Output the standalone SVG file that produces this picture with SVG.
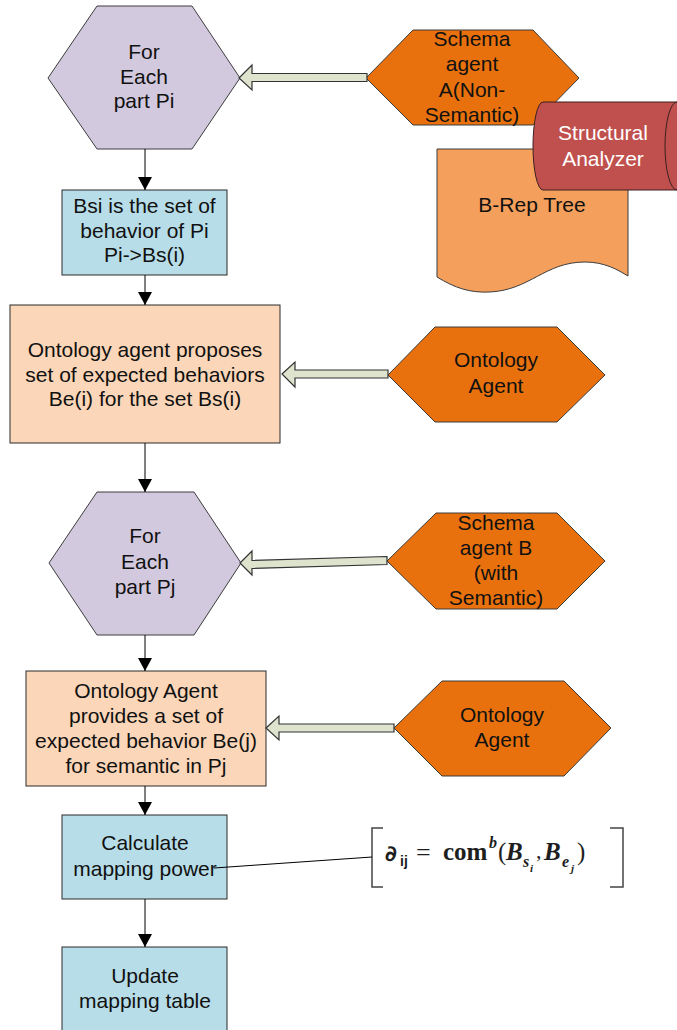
<svg xmlns="http://www.w3.org/2000/svg" width="677" height="1030" viewBox="0 0 677 1030">
  <style>
    .lbl { font-family: "Liberation Sans", Arial, sans-serif; font-size: 21px; fill: #111; text-anchor: middle; }
    .lblw { font-family: "Liberation Sans", Arial, sans-serif; font-size: 21px; fill: #fff; text-anchor: middle; }
    .loop { fill: #d3c9df; stroke: #3c3c3c; stroke-width: 1; }
    .agent { fill: #e8710e; stroke: #3c3c3c; stroke-width: 1; }
    .step { fill: #b7dde8; stroke: #2b2b2b; stroke-width: 1; }
    .prop { fill: #fbd6b8; stroke: #2b2b2b; stroke-width: 1; }
    .feed { fill: #dde3cd; stroke: #333; stroke-width: 1.2; }
    .flow { stroke: #000; stroke-width: 1; fill: none; marker-end: url(#tri); }
    .fx { font-family: "Liberation Serif", "Times New Roman", serif; fill: #1e1e1e; }
  </style>
  <defs>
    <marker id="tri" markerUnits="userSpaceOnUse" markerWidth="14" markerHeight="14" refX="13" refY="7" orient="auto">
      <path d="M0,0 L13,7 L0,14 Z" fill="#000"/>
    </marker>
  </defs>

  <!-- B-Rep tree document -->
  <g id="brep-tree">
    <path d="M437,149 H628 V276 C618,270 605,262 585,262 C545,262 530,290 490,292 C470,293 455,288 437,277 Z" fill="#f49f5b" stroke="#3c3c3c" stroke-width="1"/>
    <text class="lbl" x="532" y="212">B-Rep Tree</text>
  </g>

  <!-- Schema agent A -->
  <g id="schema-agent-a">
    <polygon class="agent" points="366,78 413,30 533,30 579,78 533,125 413,125"/>
    <text class="lbl" x="472" y="46">Schema</text>
    <text class="lbl" x="472" y="71">agent</text>
    <text class="lbl" x="472" y="96.5">A(Non-</text>
    <text class="lbl" x="472" y="122">Semantic)</text>
  </g>

  <!-- Structural analyzer (storage cylinder) -->
  <g id="structural-analyzer">
    <path d="M543,102 H700 V190 H543 A10,44 0 0 1 543,102 Z" fill="#c0504d" stroke="#3a1f1f" stroke-width="1"/>
    <path d="M677,102 A12,44 0 0 0 677,190" fill="none" stroke="#3a1f1f" stroke-width="1"/>
    <text class="lblw" x="603" y="140">Structural</text>
    <text class="lblw" x="603" y="166">Analyzer</text>
  </g>

  <!-- Loop over parts Pi -->
  <g id="for-each-pi">
    <polygon class="loop" points="48,78 97,6 192,6 240,78 192,149 97,149"/>
    <text class="lbl" x="144" y="59">For</text>
    <text class="lbl" x="144" y="84">Each</text>
    <text class="lbl" x="144" y="108">part Pi</text>
  </g>

  <g id="behavior-set">
    <rect class="step" x="62" y="190" width="165" height="85"/>
    <text class="lbl" x="144.5" y="213">Bsi is the set of</text>
    <text class="lbl" x="144.5" y="238">behavior of Pi</text>
    <text class="lbl" x="144.5" y="262">Pi-&gt;Bs(i)</text>
  </g>

  <g id="expected-behaviors-i">
    <rect class="prop" x="10" y="305" width="270" height="138"/>
    <text class="lbl" x="145" y="357">Ontology agent proposes</text>
    <text class="lbl" x="145" y="381.5">set of expected behaviors</text>
    <text class="lbl" x="145" y="406">Be(i) for the set Bs(i)</text>
  </g>

  <g id="ontology-agent-1">
    <polygon class="agent" points="388,375 435,327 557,327 605,375 557,422 435,422"/>
    <text class="lbl" x="496" y="367">Ontology</text>
    <text class="lbl" x="496" y="393">Agent</text>
  </g>

  <!-- Loop over parts Pj -->
  <g id="for-each-pj">
    <polygon class="loop" points="49,563 97,492 194,492 241,563 194,635 97,635"/>
    <text class="lbl" x="145" y="543">For</text>
    <text class="lbl" x="145" y="569">Each</text>
    <text class="lbl" x="145" y="594">part Pj</text>
  </g>

  <g id="schema-agent-b">
    <polygon class="agent" points="387,561 436,513 557,513 605,561 557,609 436,609"/>
    <text class="lbl" x="496" y="530">Schema</text>
    <text class="lbl" x="496" y="555">agent B</text>
    <text class="lbl" x="496" y="580">(with</text>
    <text class="lbl" x="496" y="605">Semantic)</text>
  </g>

  <g id="expected-behaviors-j">
    <rect class="prop" x="26" y="671" width="240" height="115"/>
    <text class="lbl" x="146" y="698">Ontology Agent</text>
    <text class="lbl" x="146" y="723">provides a set of</text>
    <text class="lbl" x="146" y="748">expected behavior Be(j)</text>
    <text class="lbl" x="146" y="773">for semantic in Pj</text>
  </g>

  <g id="ontology-agent-2">
    <polygon class="agent" points="394,728 442,681 564,681 611,728 564,776 442,776"/>
    <text class="lbl" x="502" y="722">Ontology</text>
    <text class="lbl" x="502" y="747">Agent</text>
  </g>

  <g id="mapping-power">
    <rect class="step" x="62" y="815" width="165" height="84"/>
    <text class="lbl" x="145" y="850">Calculate</text>
    <text class="lbl" x="145" y="876">mapping power</text>
  </g>

  <g id="update-table">
    <rect class="step" x="62" y="947" width="165" height="100"/>
    <text class="lbl" x="145" y="983">Update</text>
    <text class="lbl" x="145" y="1008">mapping table</text>
  </g>

  <!-- Mapping power formula -->
  <g id="formula">
    <path d="M383,828 H372 V887 H383 M610,828 H623 V887 H610" fill="none" stroke="#444" stroke-width="1.5"/>
    <text font-family="DejaVu Sans, sans-serif" font-weight="bold" font-size="22" fill="#1e1e1e" x="385" y="861">∂</text>
    <text font-family="Liberation Sans, Arial, sans-serif" font-weight="bold" font-size="14" fill="#1e1e1e" x="400" y="866">ij</text>
    <text class="fx" font-size="26" x="416" y="861">=</text>
    <text class="fx" font-weight="bold" font-size="25" x="443" y="860">com</text>
    <text class="fx" font-weight="bold" font-style="italic" font-size="16" x="489" y="848">b</text>
    <text class="fx" font-size="25" x="498" y="860">(</text>
    <text class="fx" font-weight="bold" font-style="italic" font-size="25" x="506" y="860">B</text>
    <text class="fx" font-weight="bold" font-style="italic" font-size="16" x="523" y="867">s</text>
    <text class="fx" font-weight="bold" font-style="italic" font-size="11" x="530" y="872">i</text>
    <text class="fx" font-size="22" x="536" y="858">,</text>
    <text class="fx" font-weight="bold" font-style="italic" font-size="25" x="544" y="860">B</text>
    <text class="fx" font-weight="bold" font-style="italic" font-size="16" x="562" y="867">e</text>
    <text class="fx" font-weight="bold" font-style="italic" font-size="11" x="571" y="872">j</text>
    <text class="fx" font-size="25" x="577" y="860">)</text>
  </g>

  <!-- Connectors -->
  <g id="connectors">
    <line class="flow" x1="145" y1="149" x2="145" y2="190"/>
    <line class="flow" x1="145" y1="275" x2="145" y2="305"/>
    <line class="flow" x1="145" y1="443" x2="145" y2="492"/>
    <line class="flow" x1="145" y1="635" x2="145" y2="671"/>
    <line class="flow" x1="145" y1="786" x2="145" y2="815"/>
    <line class="flow" x1="145" y1="899" x2="145" y2="947"/>
    <line x1="372" y1="857" x2="214" y2="868" stroke="#000" stroke-width="1"/>
    <polygon class="feed" points="239,78 252,65 252,73.5 367,73.5 367,81.5 252,81.5 252,90"/>
    <polygon class="feed" points="282,374 295,362 295,370 388,370 388,378 295,378 295,387"/>
    <polygon class="feed" points="240,563 252,551 252,560.5 387,556.5 387,564.5 252,568.5 252,575"/>
    <polygon class="feed" points="266,728 279,716 279,724 394,724 394,732 279,732 279,740"/>
  </g>
</svg>
